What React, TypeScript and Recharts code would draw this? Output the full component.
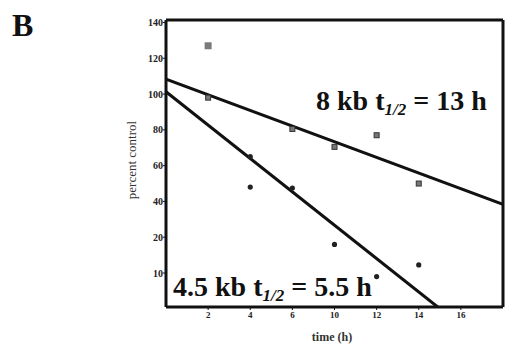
import React from 'react';
import {
  ComposedChart, Line, Scatter, XAxis, YAxis, ReferenceLine,
} from 'recharts';

// time positions (h) and percent control values
const fit8kb = [
  { x: 0, y: 108.4 },
  { x: 16, y: 38.4 },
];
const fit45kb = [
  { x: 0, y: 101.3 },
  { x: 12.9, y: -19 },
];
const points8kb = [
  { x: 2, y: 98 },
  { x: 6, y: 80.5 },
  { x: 8, y: 70.5 },
  { x: 10, y: 77 },
  { x: 12, y: 50 },
];
const outlier8kb = [{ x: 2, y: 127 }];
const points45kb = [
  { x: 4, y: 65 },
  { x: 4, y: 48 },
  { x: 6, y: 47.5 },
  { x: 8, y: 16 },
  { x: 10, y: -2 },
  { x: 12, y: 4.5 },
];

const xTicks = [2, 4, 6, 8, 10, 12, 14];
const xTickLabels = ['2', '4', '6', '10', '12', '14', '16'];
const yTicks = [0, 20, 40, 60, 80, 100, 120, 140];
const yTickLabels = ['10', '20', '40', '60', '80', '100', '120', '140'];

const X_MAX = 16;
const Y_MIN = -19;
const Y_MAX = 141.4;

const SERIF = '"Liberation Serif", "DejaVu Serif", serif';

const SquareDot = (props: any) => {
  const { cx, cy } = props;
  if (cx == null || cy == null) return null;
  return <rect x={cx - 2.5} y={cy - 2.5} width={5} height={5} fill="#777" stroke="#333" strokeWidth={1} />;
};

const BigSquare = (props: any) => {
  const { cx, cy } = props;
  if (cx == null || cy == null) return null;
  return <rect x={cx - 3.5} y={cy - 3.5} width={7} height={7} fill="#7a7a7a" />;
};

const RoundDot = (props: any) => {
  const { cx, cy } = props;
  if (cx == null || cy == null) return null;
  return <circle cx={cx} cy={cy} r={2.6} fill="#222" />;
};

const tickStyle = { fontSize: 9, fill: '#222', fontFamily: SERIF, fontWeight: 700 };

export default function App() {
  return (
    <div style={{ position: 'absolute', left: 0, top: 0, width: 508, height: 354, background: '#fff' }}>
      <ComposedChart width={508} height={354} margin={{ top: 20, right: 5, bottom: 0, left: 0 }}>
        <XAxis
          dataKey="x"
          type="number"
          domain={[0, X_MAX]}
          ticks={xTicks}
          tickFormatter={(v: number) => xTickLabels[xTicks.indexOf(v)] ?? ''}
          height={47}
          tickSize={3}
          tickMargin={2}
          axisLine={{ stroke: '#111', strokeWidth: 3 }}
          tickLine={{ stroke: '#111' }}
          tick={tickStyle}
          allowDataOverflow
        />
        <YAxis
          dataKey="y"
          type="number"
          domain={[Y_MIN, Y_MAX]}
          ticks={yTicks}
          tickFormatter={(v: number) => yTickLabels[yTicks.indexOf(v)] ?? ''}
          width={166}
          tickSize={3}
          tickMargin={0}
          axisLine={{ stroke: '#111', strokeWidth: 3 }}
          tickLine={{ stroke: '#111' }}
          tick={{ ...tickStyle, fontSize: 10 }}
          allowDataOverflow
        />
        <ReferenceLine y={Y_MAX} stroke="#111" strokeWidth={3} />
        <ReferenceLine x={X_MAX} stroke="#111" strokeWidth={3} />
        <Line data={fit8kb} dataKey="y" stroke="#111" strokeWidth={3} dot={false} isAnimationActive={false} />
        <Line data={fit45kb} dataKey="y" stroke="#111" strokeWidth={3} dot={false} isAnimationActive={false} />
        <Scatter data={points8kb} dataKey="y" shape={SquareDot} isAnimationActive={false} />
        <Scatter data={outlier8kb} dataKey="y" shape={BigSquare} isAnimationActive={false} />
        <Scatter data={points45kb} dataKey="y" shape={RoundDot} isAnimationActive={false} />
      </ComposedChart>
      <svg
        width={508}
        height={354}
        style={{ position: 'absolute', left: 0, top: 0, pointerEvents: 'none' }}
        fontFamily={SERIF}
      >
        <text x={12} y={36} fontSize={32} fontWeight={700} fill="#111">B</text>
        <text x={316} y={110} fontSize={28} fontWeight={700} fill="#111">
          8 kb t<tspan fontSize={17} fontStyle="italic" dy={5}>1/2</tspan>
          <tspan dy={-5}> = 13 h</tspan>
        </text>
        <text x={173} y={296} fontSize={28} fontWeight={700} fill="#111">
          4.5 kb t<tspan fontSize={17} fontStyle="italic" dy={5}>1/2</tspan>
          <tspan dy={-5}> = 5.5 h</tspan>
        </text>
        <text
          x={136}
          y={160}
          fontSize={13}
          fill="#333"
          textAnchor="middle"
          transform="rotate(-90 136 160)"
        >
          percent control
        </text>
        <text x={332} y={341} fontSize={12} fontWeight={700} fill="#333" textAnchor="middle">
          time (h)
        </text>
      </svg>
    </div>
  );
}
